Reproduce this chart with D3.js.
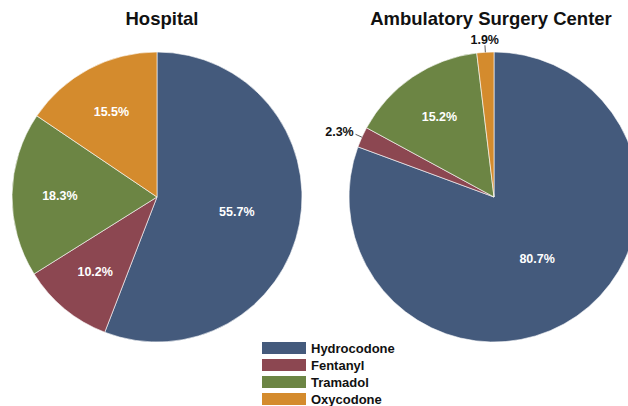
<!DOCTYPE html>
<html>
<head>
<meta charset="utf-8">
<script src="https://cdn.jsdelivr.net/npm/d3@7"></script>
<style>
  body { margin: 0; background: #fff; }
  text { font-family: "Liberation Sans", Arial, sans-serif; }
</style>
</head>
<body>
<svg id="chart" width="628" height="406"></svg>
<script>
// drugs, in the order the slices go round (clockwise from 12 o'clock)
var drugs = ["Hydrocodone", "Fentanyl", "Tramadol", "Oxycodone"];
var drugColors = ["#445a7c", "#8c4751", "#6c8544", "#d48b2d"];

var hospitalValues = [55.7, 10.2, 18.3, 15.5];
var ascValues = [80.7, 2.3, 15.2, 1.9];

var pieTitles = ["Hospital", "Ambulatory Surgery Center"];

var width = 628, height = 406;
var radius = 145;

var svg = d3.select("#chart");

var color = d3.scaleOrdinal().domain(drugs).range(drugColors);

var pie = d3.pie()
    .sort(null)
    .value(d => d.value);

var arc = d3.arc().innerRadius(0).outerRadius(radius);

function drawPie(values, title, cx, cy, titleX) {
    var data = drugs.map((name, i) => ({name: name, value: values[i]}));
    var arcs = pie(data);

    svg.append("text")
        .attr("x", titleX)
        .attr("y", 25)
        .attr("text-anchor", "middle")
        .style("font-size", "18.5px")
        .style("font-weight", "bold")
        .attr("fill", "#111")
        .text(title);

    var g = svg.append("g").attr("transform", `translate(${cx},${cy})`);

    g.selectAll("path")
        .data(arcs)
        .join("path")
        .attr("d", arc)
        .attr("fill", d => color(d.data.name))
        .attr("stroke", "#fff")
        .attr("stroke-width", 0.6);

    arcs.forEach(function(d) {
        var share = (d.endAngle - d.startAngle) / (2 * Math.PI);
        var mid = (d.startAngle + d.endAngle) / 2;
        var sx = Math.sin(mid), sy = -Math.cos(mid);
        var label = d.data.value.toFixed(1) + "%";

        if (share < 0.05) {
            // small slice: label outside with a short leader
            var top = Math.abs(sx) < 0.3;
            var r1 = radius, r2 = radius + 7, r3 = radius + (top ? 11 : 9);
            g.append("line")
                .attr("x1", sx * r1).attr("y1", sy * r1)
                .attr("x2", sx * r2).attr("y2", sy * r2)
                .attr("stroke", "#333")
                .attr("stroke-width", 0.8);
            g.append("text")
                .attr("x", sx * r3)
                .attr("y", sy * r3)
                .attr("dy", top ? "0.2em" : "0.2em")
                .attr("text-anchor", top ? "middle" : (sx < 0 ? "end" : "start"))
                .style("font-size", "12.5px")
                .style("font-weight", "bold")
                .attr("fill", "#111")
                .text(label);
        }
        else {
            var lr = radius * (share > 0.75 ? 0.52 : share > 0.5 ? 0.56 : 0.67);
            g.append("text")
                .attr("x", sx * lr)
                .attr("y", sy * lr)
                .attr("dy", "0.35em")
                .attr("text-anchor", "middle")
                .style("font-size", "12.5px")
                .style("font-weight", "bold")
                .attr("fill", "#fff")
                .text(label);
        }
    });
}

drawPie(hospitalValues, pieTitles[0], 157, 197, 162);
drawPie(ascValues, pieTitles[1], 494, 197, 491);

// legend
var legend = svg.append("g")
    .attr("transform", "translate(262,342)");

var row = legend.selectAll("g")
    .data(drugs)
    .join("g")
    .attr("transform", (d, i) => `translate(0,${i * 17})`);

row.append("rect")
    .attr("width", 44)
    .attr("height", 12)
    .attr("fill", d => color(d));

row.append("text")
    .attr("x", 49)
    .attr("y", 6)
    .attr("dy", "0.36em")
    .style("font-size", "13px")
    .style("font-weight", "bold")
    .attr("fill", "#111")
    .text(d => d);
</script>
</body>
</html>
